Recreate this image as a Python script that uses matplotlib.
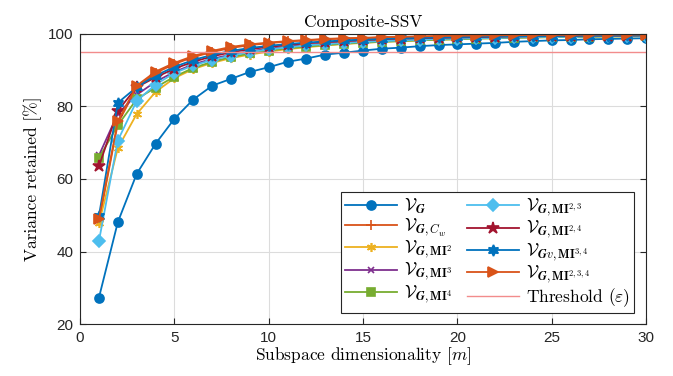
import numpy as np
import matplotlib
matplotlib.use("Agg")
import matplotlib.pyplot as plt

plt.rcParams['mathtext.fontset'] = 'cm'

m = list(range(1, 31))

v_g = [27.3, 48.1, 61.4, 69.7, 76.6, 81.9, 85.7, 87.6, 89.5, 90.8, 92.3, 93.2, 94.3, 94.8, 95.4,
       95.9, 96.2, 96.6, 96.9, 97.1, 97.3, 97.5, 97.8, 98.0, 98.2, 98.3, 98.5, 98.6, 98.7, 98.8]
v_cw = [48.3, 75.3, 85.2, 89.2, 91.7, 93.6, 95.0, 96.1, 96.9, 97.4, 97.9, 98.2, 98.5, 98.7, 98.8,
        99.0, 99.1, 99.2, 99.3, 99.4, 99.4, 99.5, 99.5, 99.6, 99.6, 99.6, 99.7, 99.7, 99.7, 99.7]
v_mi2 = [47.8, 68.5, 77.9, 84.0, 87.8, 90.3, 92.0, 93.3, 94.3, 95.1, 95.8, 96.3, 96.8, 97.2, 97.5,
         97.8, 98.0, 98.2, 98.4, 98.5, 98.7, 98.8, 98.9, 99.0, 99.1, 99.1, 99.2, 99.3, 99.3, 99.4]
v_mi3 = [66.5, 78.0, 83.2, 86.8, 89.5, 91.6, 93.1, 94.3, 95.2, 95.9, 96.5, 96.9, 97.3, 97.6, 97.9,
         98.1, 98.3, 98.5, 98.6, 98.8, 98.9, 99.0, 99.1, 99.2, 99.2, 99.3, 99.3, 99.4, 99.4, 99.5]
v_mi4 = [65.8, 74.8, 82.0, 85.2, 88.2, 90.6, 92.3, 93.6, 94.6, 95.4, 96.0, 96.5, 96.9, 97.3, 97.6,
         97.8, 98.0, 98.2, 98.4, 98.5, 98.7, 98.8, 98.9, 99.0, 99.1, 99.1, 99.2, 99.3, 99.3, 99.4]
v_mi23 = [42.9, 70.6, 81.5, 86.0, 89.2, 91.3, 92.8, 94.0, 95.0, 95.7, 96.3, 96.8, 97.2, 97.5, 97.8,
          98.0, 98.2, 98.4, 98.6, 98.7, 98.8, 98.9, 99.0, 99.1, 99.2, 99.2, 99.3, 99.4, 99.4, 99.5]
v_mi24 = [63.5, 78.8, 85.3, 88.0, 90.4, 92.3, 93.8, 94.9, 95.8, 96.4, 96.9, 97.4, 97.7, 98.0, 98.3,
          98.5, 98.7, 98.8, 98.9, 99.0, 99.1, 99.2, 99.3, 99.3, 99.4, 99.4, 99.5, 99.5, 99.5, 99.6]
v_gv34 = [49.8, 81.0, 85.3, 88.5, 90.9, 92.8, 94.2, 95.3, 96.1, 96.7, 97.2, 97.6, 97.9, 98.2, 98.4,
          98.6, 98.8, 98.9, 99.0, 99.1, 99.2, 99.3, 99.3, 99.4, 99.4, 99.5, 99.5, 99.5, 99.6, 99.6]
v_mi234 = [48.9, 75.9, 85.7, 89.6, 92.0, 93.9, 95.3, 96.4, 97.1, 97.6, 98.0, 98.3, 98.6, 98.8, 98.9,
           99.1, 99.2, 99.3, 99.4, 99.5, 99.5, 99.6, 99.6, 99.7, 99.7, 99.7, 99.8, 99.8, 99.8, 99.8]
threshold = 95

labels = [
    r'$\mathcal{V}_{\boldsymbol{G}}$',
    r'$\mathcal{V}_{\boldsymbol{G},C_w}$',
    r'$\mathcal{V}_{\boldsymbol{G},\mathbf{MI}^2}$',
    r'$\mathcal{V}_{\boldsymbol{G},\mathbf{MI}^3}$',
    r'$\mathcal{V}_{\boldsymbol{G},\mathbf{MI}^4}$',
    r'$\mathcal{V}_{\boldsymbol{G},\mathbf{MI}^{2,3}}$',
    r'$\mathcal{V}_{\boldsymbol{G},\mathbf{MI}^{2,4}}$',
    r'$\mathcal{V}_{\boldsymbol{G}v,\mathbf{MI}^{3,4}}$',
    r'$\mathcal{V}_{\boldsymbol{G},\mathbf{MI}^{2,3,4}}$',
]
series = [v_g, v_cw, v_mi2, v_mi3, v_mi4, v_mi23, v_mi24, v_gv34, v_mi234]
colors = ['#0072BD', '#D95319', '#EDB120', '#7E2F8E', '#77AC30', '#4DBEEE', '#A2142F', '#0072BD', '#D95319']
markers = ['o', '+', (6, 2, 0), 'x', 's', 'D', '*', (6, 1, 0), '>']
msizes = [6.5, 7, 6.5, 5, 5.5, 6, 9, 8, 7]

fig = plt.figure(figsize=(6.73, 3.76), dpi=100)
ax = fig.add_axes([0.119, 0.138, 0.841, 0.772])

for y, c, mk, ms, lab in zip(series, colors, markers, msizes, labels):
    ax.plot(m, y, color=c, marker=mk, markersize=ms, markerfacecolor=c,
            markeredgecolor=c, markeredgewidth=1.2, linewidth=1.3, label=lab)

ax.axhline(threshold, color='#F28C8C', linewidth=1.0, label=r'Threshold ($\varepsilon$)')

ax.set_xlim(0, 30)
ax.set_ylim(20, 100)
ax.set_xticks([0, 5, 10, 15, 20, 25, 30])
ax.set_yticks([20, 40, 60, 80, 100])
ax.grid(True, color='#dcdcdc', linewidth=0.8)
ax.set_axisbelow(True)
ax.tick_params(direction='in', top=True, right=True, length=4, width=0.8,
               labelsize=11, colors='#262626', pad=5)
for lab in ax.get_xticklabels() + ax.get_yticklabels():
    lab.set_fontfamily('Liberation Sans')
for sp in ax.spines.values():
    sp.set_color('#262626')
    sp.set_linewidth(0.8)

ax.set_title('Composite-SSV', fontfamily='cmr10', fontsize=12.5, pad=5)
ax.set_xlabel(r'Subspace dimensionality $[m]$', fontfamily='cmr10', fontsize=12.5, labelpad=0)
ax.set_ylabel(r'Variance retained [%]', fontfamily='cmr10', fontsize=12.5, labelpad=4)

leg = ax.legend(ncol=2, loc='lower right', bbox_to_anchor=(0.979, 0.038),
                fontsize=12.5, frameon=True, fancybox=False, edgecolor='#262626',
                framealpha=1, handlelength=3.0, borderpad=0.25, labelspacing=0.0,
                columnspacing=0.8, handletextpad=0.4, borderaxespad=0)
leg.get_frame().set_linewidth(0.8)
for t in leg.get_texts():
    t.set_fontfamily('cmr10')

fig.savefig('out.png', dpi=100)
